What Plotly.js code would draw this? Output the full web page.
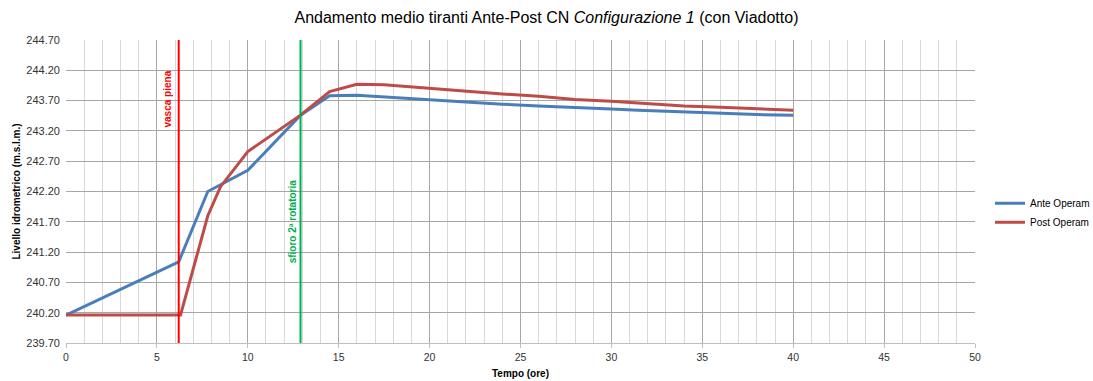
<!DOCTYPE html>
<html>
<head>
<meta charset="utf-8">
<script src="https://cdn.plot.ly/plotly-3.0.1.min.js"></script>
<style>html,body{margin:0;padding:0;background:#fff;}#chart{width:1093px;height:381px;}</style>
</head>
<body>
<div id="chart"></div>
<script>
// Data
const anteX = [0, 6.2, 7.8, 10, 12.9, 14.5, 16, 17.5, 20, 22, 24, 26, 28, 30, 31.5, 34, 36, 38, 40];
const anteY = [240.16, 241.04, 242.20, 242.55, 243.46, 243.78, 243.79, 243.76, 243.71, 243.67, 243.64, 243.61, 243.58, 243.56, 243.54, 243.51, 243.49, 243.47, 243.46];
const postX = [0, 6.3, 7.8, 8.5, 10, 12.9, 14.5, 16, 17.5, 20, 22, 24, 26, 28, 30, 31, 32, 34, 36, 38, 40];
const postY = [240.16, 240.16, 241.80, 242.28, 242.86, 243.46, 243.85, 243.97, 243.96, 243.90, 243.85, 243.81, 243.77, 243.72, 243.69, 243.67, 243.64, 243.61, 243.59, 243.56, 243.54];
const seriesNames = ["Ante Operam", "Post Operam"];
const markerLines = [
  {x: 6.2, label: "vasca piena", color: "#FF0000", labelY: 243.73, shift: -11},
  {x: 12.9, label: "sfioro 2ª rotatoria", color: "#00B050", labelY: 241.70, shift: -8}
];
const yMin = 239.70, yMax = 244.70;
const yTicks = [239.70, 240.20, 240.70, 241.20, 241.70, 242.20, 242.70, 243.20, 243.70, 244.20, 244.70];

const font = "Liberation Sans, Arial, sans-serif";

const traces = [
  {x: anteX, y: anteY, name: seriesNames[0], mode: "lines", line: {color: "#4A7EBB", width: 3}},
  {x: postX, y: postY, name: seriesNames[1], mode: "lines", line: {color: "#BE4B48", width: 3}}
];

const shapes = markerLines.map(m => ({
  type: "line", xref: "x", yref: "paper", x0: m.x, x1: m.x, y0: 0, y1: 1,
  line: {color: m.color, width: 2}
}));
const annotations = markerLines.map(m => ({
  x: m.x, y: m.labelY, xref: "x", yref: "y", text: "<b>" + m.label + "</b>",
  textangle: -90, showarrow: false, xshift: m.shift,
  font: {family: font, size: 10, color: m.color}
}));

const layout = {
  width: 1093, height: 381,
  margin: {l: 66, r: 118, t: 40, b: 38, autoexpand: false},
  paper_bgcolor: "#fff", plot_bgcolor: "#fff",
  font: {family: font, size: 10, color: "#333"},
  title: {text: "Andamento medio tiranti Ante-Post CN <i>Configurazione 1</i> (con Viadotto)",
          font: {family: font, size: 16, color: "#000"}, x: 0.5, xanchor: "center", y: 0.955, yanchor: "middle"},
  showlegend: true,
  legend: {x: 1.0165, y: 0.43, xanchor: "left", yanchor: "middle", font: {family: font, size: 10, color: "#000"},
           itemwidth: 30, tracegroupgap: 0, bgcolor: "rgba(0,0,0,0)"},
  xaxis: {
    range: [0, 50], dtick: 5, tick0: 0, showgrid: true, gridcolor: "#A6A6A6", gridwidth: 1,
    minor: {dtick: 1, showgrid: true, gridcolor: "#D9D9D9", gridwidth: 1},
    zeroline: false, showline: true, linecolor: "#BFBFBF", linewidth: 1,
    ticks: "outside", ticklen: 4, tickcolor: "#BFBFBF",
    tickfont: {family: font, size: 10.5, color: "#333"},
    title: {text: "<b>Tempo (ore)</b>", font: {family: font, size: 10, color: "#000"}, standoff: 8}
  },
  yaxis: {
    range: [yMin, yMax], tickvals: yTicks, ticktext: yTicks.map(v => v.toFixed(2)),
    showgrid: true, gridcolor: "#A6A6A6", gridwidth: 1, zeroline: false, showline: false,
    ticks: "", ticklabelstandoff: 5, tickfont: {family: font, size: 11, color: "#333"},
    title: {text: "<b>Livello idrometrico (m.s.l.m.)</b>", font: {family: font, size: 10, color: "#000"}, standoff: 3}
  },
  shapes: shapes,
  annotations: annotations
};

Plotly.newPlot("chart", traces, layout, {displayModeBar: false, staticPlot: true});
</script>
</body>
</html>
